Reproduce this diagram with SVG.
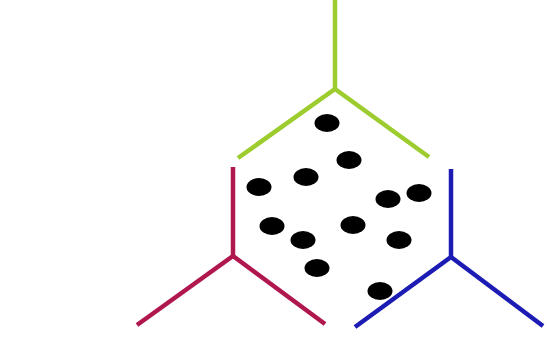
<svg xmlns="http://www.w3.org/2000/svg" width="547" height="338" viewBox="0 0 547 338">
<style>
.ln{fill:none;stroke-width:4.5;stroke-linecap:butt;stroke-linejoin:miter}
.g{stroke:#9ccc2e}
.r{stroke:#b0174f}
.b{stroke:#1c1cb4}
.dot{fill:#000}
</style>
<rect width="547" height="338" fill="#fff"/>
<g id="connectors">
<g id="green"><path class="ln g" d="M335,0 V89 M238,158 L335,89 L429,157"/></g>
<g id="red"><path class="ln r" d="M233,167 V256 M137,325 L233,256 L325,324"/></g>
<g id="blue"><path class="ln b" d="M451,169 V257 M355,327 L451,257 L543,326"/></g>
</g>
<g id="dots">
<ellipse class="dot" cx="327" cy="123" rx="12.5" ry="9"/>
<ellipse class="dot" cx="349" cy="160" rx="12.5" ry="9"/>
<ellipse class="dot" cx="306" cy="177" rx="12.5" ry="9"/>
<ellipse class="dot" cx="259" cy="187" rx="12.5" ry="9"/>
<ellipse class="dot" cx="388" cy="199" rx="12.5" ry="9"/>
<ellipse class="dot" cx="419" cy="193" rx="12.5" ry="9"/>
<ellipse class="dot" cx="272" cy="226" rx="12.5" ry="9"/>
<ellipse class="dot" cx="353" cy="225" rx="12.5" ry="9"/>
<ellipse class="dot" cx="303" cy="240" rx="12.5" ry="9"/>
<ellipse class="dot" cx="399" cy="240" rx="12.5" ry="9"/>
<ellipse class="dot" cx="317" cy="268" rx="12.5" ry="9"/>
<ellipse class="dot" cx="380" cy="291" rx="12.5" ry="9"/>
</g>
</svg>
